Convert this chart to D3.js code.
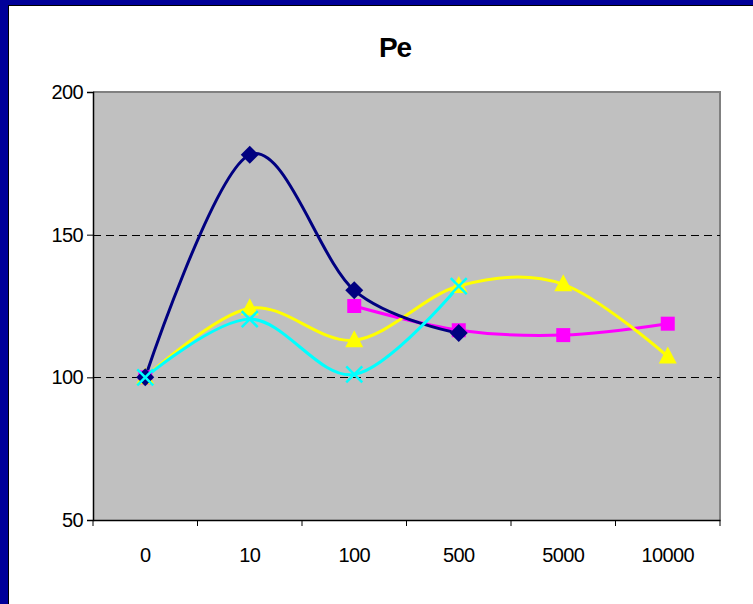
<!DOCTYPE html>
<html><head><meta charset="utf-8">
<script src="https://cdn.jsdelivr.net/npm/d3@7"></script>
<style>body{margin:0;background:#fff;}svg{display:block;}text{font-family:Arial,"Liberation Sans",sans-serif;}</style>
</head><body>
<svg id="c" width="753" height="604"></svg>
<script>
const categories = ["0","10","100","500","5000","10000"];
const seriesNavy    = [100, 178, 130.5, 115.5, null, null];
const seriesMagenta = [100, null, 125, 116.5, 114.8, 118.8];
const seriesYellow  = [100, 124.2, 113, 132, 132.6, 107.3];
const seriesCyan    = [100, 120.4, 101, 132, null, null];
const yTicks = [50, 100, 150, 200];
const gridValues = [100, 150];

const svg = d3.select("#c");
// frame
svg.append("rect").attr("x",0).attr("y",0).attr("width",753).attr("height",604).attr("fill","#fff");
svg.append("rect").attr("x",0).attr("y",0).attr("width",753).attr("height",5).attr("fill","#000099");
svg.append("rect").attr("x",0).attr("y",0).attr("width",8).attr("height",604).attr("fill","#000099");
svg.append("line").attr("x1",8.5).attr("x2",8.5).attr("y1",5).attr("y2",604).attr("stroke","#000").attr("stroke-width",1);
svg.append("line").attr("x1",8).attr("x2",753).attr("y1",5.5).attr("y2",5.5).attr("stroke","#000").attr("stroke-width",1);

const L=93, R=720, T=92, B=520;
const x = d3.scaleBand().domain(categories).range([L,R]);
const y = d3.scaleLinear().domain([50,200]).range([B,T]);
const cx = d => x(d) + x.bandwidth()/2;

svg.append("rect").attr("x",L).attr("y",T).attr("width",R-L).attr("height",B-T).attr("fill","#C0C0C0");
svg.append("path").attr("d",`M${L},${T}H${R}V${B}`).attr("fill","none").attr("stroke","#808080").attr("stroke-width",2);

svg.selectAll(".grid").data(gridValues).join("line")
  .attr("x1",L).attr("x2",R).attr("y1",d=>Math.round(y(d))+0.5).attr("y2",d=>Math.round(y(d))+0.5)
  .attr("stroke","#000").attr("stroke-width",1).attr("stroke-dasharray","8,5");

// axes
const yAxis = d3.axisLeft(y).tickValues(yTicks).tickSize(6).tickPadding(4);
const gy = svg.append("g").attr("transform",`translate(${L},0)`).call(yAxis);
gy.select(".domain").attr("stroke","#000").attr("stroke-width",1.5);
gy.selectAll("text").attr("font-size",20).attr("letter-spacing",-0.6).attr("fill","#000");

const xAxis = d3.axisBottom(x).tickSize(0).tickPadding(28);
const gx = svg.append("g").attr("transform",`translate(0,${B})`).call(xAxis);
gx.select(".domain").attr("stroke","#000").attr("stroke-width",1.5);
gx.selectAll("text").attr("font-size",20).attr("letter-spacing",-0.6).attr("fill","#000");
// category boundary ticks
const bounds = categories.map(c=>x(c)).concat([R]);
svg.selectAll(".xt").data(bounds).join("line")
  .attr("x1",d=>d).attr("x2",d=>d).attr("y1",B).attr("y2",B+6).attr("stroke","#000").attr("stroke-width",1);

// title
svg.append("text").attr("x",395).attr("y",57).attr("text-anchor","middle")
  .attr("font-size",28).attr("font-weight","bold").attr("letter-spacing",-1).attr("fill","#000").text("Pe");

const line = d3.line().defined(d=>d.v!=null).x(d=>cx(d.c)).y(d=>y(d.v)).curve(d3.curveCardinal.tension(0));
const toPts = arr => arr.map((v,i)=>({c:categories[i], v}));

function drawLine(arr,color){
  svg.append("path").datum(toPts(arr)).attr("d",line).attr("fill","none")
    .attr("stroke",color).attr("stroke-width",3).attr("stroke-linejoin","round");
}
function drawMarkers(arr,color,type){
  const pts = toPts(arr).filter(d=>d.v!=null);
  const g = svg.append("g");
  pts.forEach(d=>{
    const px=cx(d.c), py=y(d.v);
    if(type==="diamond"){
      g.append("path").attr("d",`M${px},${py-9}L${px+9},${py}L${px},${py+9}L${px-9},${py}Z`).attr("fill",color);
    } else if(type==="square"){
      g.append("rect").attr("x",px-7).attr("y",py-7).attr("width",14).attr("height",14).attr("fill",color);
    } else if(type==="triangle"){
      g.append("path").attr("d",`M${px},${py-10}L${px+9},${py+7}L${px-9},${py+7}Z`).attr("fill",color);
    } else if(type==="x"){
      g.append("path").attr("d",`M${px-8},${py-8}L${px+8},${py+8}M${px+8},${py-8}L${px-8},${py+8}`)
        .attr("stroke",color).attr("stroke-width",2.5).attr("fill","none");
    }
  });
}
drawLine(seriesMagenta,"#FF00FF");
drawLine(seriesYellow,"#FFFF00");
drawLine(seriesNavy,"#000080");
drawLine(seriesCyan,"#00FFFF");
drawMarkers(seriesMagenta,"#FF00FF","square");
drawMarkers(seriesYellow,"#FFFF00","triangle");
drawMarkers(seriesNavy,"#000080","diamond");
drawMarkers(seriesCyan,"#00FFFF","x");
</script>
</body></html>
